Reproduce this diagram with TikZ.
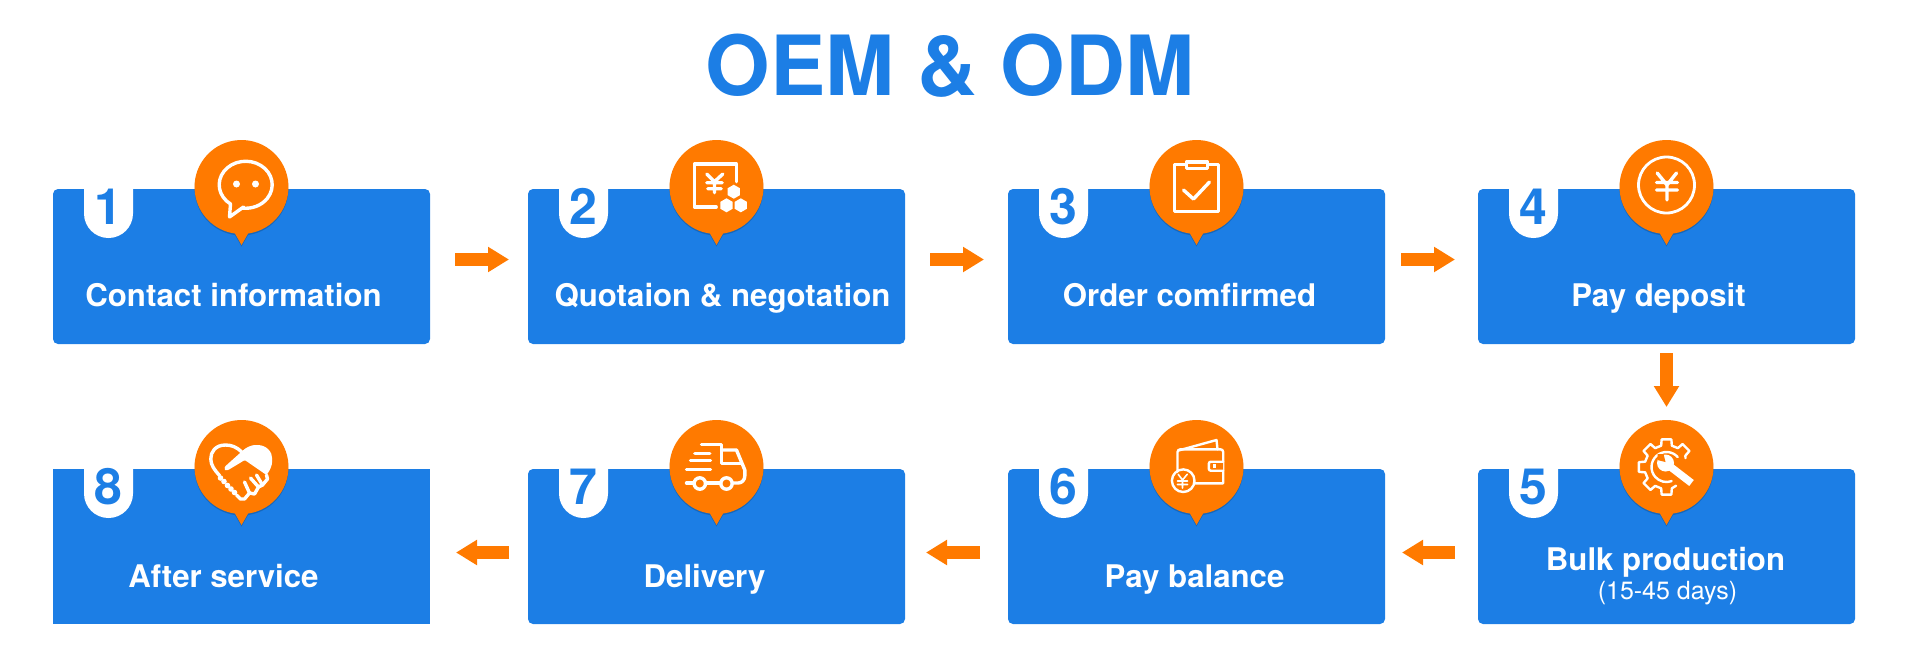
\documentclass[tikz,border=0pt]{standalone}
\usepackage{fontspec}
\setmainfont{TeX Gyre Heros}
\usetikzlibrary{positioning,arrows.meta,shadows}
\definecolor{cardblue}{HTML}{1C7EE5}
\definecolor{pinorange}{HTML}{FF7A00}
\tikzset{
  stepbox/.style={fill=cardblue, rounded corners=5pt, minimum width=377pt, minimum height=155pt, inner sep=0pt, outer sep=0pt},
  steptxt/.style={anchor=base, text=white, inner sep=0pt, font=\fontsize{31.2}{31.2}\selectfont\bfseries},
  subtxt/.style={anchor=base, text=white, inner sep=0pt, font=\fontsize{25}{25}\selectfont},
  numtxt/.style={anchor=base, text=cardblue, inner sep=0pt, font=\fontsize{50}{50}\selectfont\bfseries},
  pinbody/.style={fill=pinorange, drop shadow={shadow xshift=0pt, shadow yshift=-1.5pt, opacity=.18, fill=black}},
  flow/.style={line width=13pt, draw=pinorange, -{Triangle[length=21pt,width=24pt,fill=pinorange]}},
  iconln/.style={draw=white, line width=3.4pt, line join=round, line cap=round},
  thinln/.style={draw=white, line width=2.4pt, line join=round, line cap=round},
}
\newcommand{\numtab}[3]{%
  \fill[white] ([xshift=31pt]#1.north west) -- ++(0,-24.5) arc[start angle=180,end angle=360,radius=24.5] -- ++(0,24.5) -- cycle;
  \node[numtxt] (#2) at ([xshift=55.5pt,yshift=-35pt]#1.north west) {#3};}
\newcommand{\pinmark}[2]{%
  \coordinate (#2) at ([yshift=2pt]#1.north);
  \path[pinbody] (#2) ++(-82:47) arc[start angle=-82,end angle=262,radius=47] -- ([yshift=-58pt]#2) -- cycle;}
\newcommand{\hexmark}[2]{\fill[white,shift={(#1,#2)}] (90:7) -- (150:7) -- (210:7) -- (270:7) -- (330:7) -- (30:7) -- cycle;}
\begin{document}
\begin{tikzpicture}[x=1pt,y=1pt]
\useasboundingbox (0,0) rectangle (1920,-649);
\node[text=cardblue, inner sep=0pt, anchor=base, font=\fontsize{83}{83}\selectfont\bfseries] (title) at (950,-95) {OEM \& ODM};

\node[stepbox, anchor=north west] (b1) at (53,-189) {};
\node[stepbox, right=98pt of b1] (b2) {};
\node[stepbox, right=103pt of b2] (b3) {};
\node[stepbox, right=93pt of b3] (b4) {};
\node[stepbox, below=125pt of b4] (b5) {};
\node[stepbox, left=93pt of b5] (b6) {};
\node[stepbox, left=103pt of b6] (b7) {};
\node[stepbox, sharp corners, left=98pt of b7] (b8) {};

\numtab{b1}{n1}{1} \numtab{b2}{n2}{2} \numtab{b3}{n3}{3} \numtab{b4}{n4}{4}
\numtab{b5}{n5}{5} \numtab{b6}{n6}{6} \numtab{b7}{n7}{7} \numtab{b8}{n8}{8}

\node[steptxt] (t1) at ([xshift=-8pt,yshift=-117pt]b1.north) {Contact information};
\node[steptxt] (t2) at ([xshift=6pt,yshift=-117pt]b2.north) {Quotaion \& negotation};
\node[steptxt] (t3) at ([xshift=-7pt,yshift=-117pt]b3.north) {Order comfirmed};
\node[steptxt] (t4) at ([xshift=-8pt,yshift=-117pt]b4.north) {Pay deposit};
\node[steptxt] (t5) at ([xshift=-1pt,yshift=-101pt]b5.north) {Bulk production};
\node[subtxt] (t5b) at ([xshift=1pt,yshift=-130pt]b5.north) {(15-45 days)};
\node[steptxt] (t6) at ([xshift=-2pt,yshift=-118pt]b6.north) {Pay balance};
\node[steptxt] (t7) at ([xshift=-12pt,yshift=-118pt]b7.north) {Delivery};
\node[steptxt] (t8) at ([xshift=-18pt,yshift=-118pt]b8.north) {After service};

\draw[flow] ([xshift=25pt,yshift=7pt]b1.east) -- ([xshift=-19pt,yshift=7pt]b2.west);
\draw[flow] ([xshift=25pt,yshift=7pt]b2.east) -- ([xshift=-24pt,yshift=7pt]b3.west);
\draw[flow] ([xshift=16pt,yshift=7pt]b3.east) -- ([xshift=-23pt,yshift=7pt]b4.west);
\draw[flow] ([yshift=-9pt]b4.south) -- ([yshift=62pt]b5.north);
\draw[flow] ([xshift=-23pt,yshift=-6pt]b5.west) -- ([xshift=17pt,yshift=-6pt]b6.east);
\draw[flow] ([xshift=-28pt,yshift=-6pt]b6.west) -- ([xshift=21pt,yshift=-6pt]b7.east);
\draw[flow] ([xshift=-19pt,yshift=-6pt]b7.west) -- ([xshift=26pt,yshift=-6pt]b8.east);

\pinmark{b1}{p1} \pinmark{b2}{p2} \pinmark{b3}{p3} \pinmark{b4}{p4}
\pinmark{b5}{p5} \pinmark{b6}{p6} \pinmark{b7}{p7} \pinmark{b8}{p8}

\begin{scope}[shift={(p1)}]
\draw[iconln] (2,-20) -- (-12,-30) -- (-11,-17) arc[start angle=235,end angle=-97,x radius=26.5,y radius=23.5];
\fill[white] (-5,3) circle (3.5) (14,3) circle (3.5);
\end{scope}

\begin{scope}[shift={(p2)}]
\draw[iconln] (19.7,5.3) -- (19.7,23) -- (-22,23) -- (-22,-20) -- (-0.3,-20);
\draw[iconln] (-9.7,13) -- (-2,5.3) -- (6.3,13) (-2,5.3) -- (-2,-5.7) (-9.7,4.3) -- (5.7,4.3) (-8.7,-1.7) -- (4.7,-1.7);
\hexmark{17.3}{-4.7} \hexmark{10}{-18.3} \hexmark{24.3}{-18.3}
\end{scope}

\begin{scope}[shift={(p3)}]
\draw[iconln] (-22,22.5) rectangle (22,-24.5);
\draw[iconln, fill=pinorange] (-10,25) rectangle (11,18.5);
\draw[iconln] (-13,-3) -- (-3,-12) -- (13,5);
\end{scope}

\begin{scope}[shift={(p4)}]
\draw[iconln, line width=2.8pt] (0,2) circle (28);
\draw[iconln] (-9.3,14) -- (0.5,2) -- (10,14) (0.5,2) -- (0.5,-13) (-10,4.5) -- (11,4.5) (-10,-3) -- (11,-3);
\end{scope}

\begin{scope}[shift={(p5)}]
\draw[thinln] (25:21) \foreach \a in {45,90,135,180,225,270} { -- (\a-14:22) -- (\a-10:28) -- (\a+10:28) -- (\a+14:22) } -- (297:21);
\draw[thinln] (42:15) arc[start angle=42,end angle=290,radius=15];
\fill[white] (-1,4) circle (8.5);
\draw[white, line width=7.5pt] (-1,4) -- (25,-16);
\fill[pinorange] (-1,5) -- (-9,7) -- (-9,13) -- (-3,13) -- cycle;
\end{scope}

\begin{scope}[shift={(p6)}]
\draw[thinln] (-19,-4.7) -- (-19,15) to[out=90,in=180] (-16,17.7) -- (24,17.7) to[out=0,in=90] (26.7,15) -- (26.7,-16.3) -- (-2,-16.3);
\draw[thinln] (-18,16.5) -- (20,27) -- (21,17.7);
\draw[thinln, fill=pinorange, rounded corners=2pt] (26.7,5.3) -- (12.3,5.3) -- (12.3,-3.7) -- (26.7,-3.7);
\fill[white] (16,-0.7) rectangle (19.5,2.8);
\draw[thinln] (-13.3,-13.7) circle (11.3);
\draw[thinln, line width=1.6pt] (-18.3,-7.3) -- (-14,-13) -- (-9.3,-7.3) (-14,-13) -- (-14,-21) (-19,-14) -- (-9,-14) (-19,-17.5) -- (-9,-17.5);
\end{scope}

\begin{scope}[shift={(p7)}]
\draw[iconln] (-15,22.7) -- (5,22.7) -- (5,3.7) -- (25,3.7);
\draw[iconln] (5,17) -- (20,17) -- (28.3,-3) -- (28.3,-9) to[out=-90,in=0] (21.7,-16) -- (16,-16);
\draw[iconln] (-30,-16) -- (-22.5,-16) (-10.9,-16) -- (4.2,-16);
\draw[iconln] (-16.7,-16.5) circle (5.7) (10,-16.5) circle (5.7);
\draw[iconln] (-21.7,13.7) -- (-6.7,13.7) (-26,6.3) -- (-6,6.3) (-30,-2.3) -- (-6,-2.3);
\end{scope}

\begin{scope}[shift={(p8)}]
\fill[white, rounded corners=1pt] (0,15.3) .. controls (5,20) and (10,22) .. (15,22) .. controls (25,22) and (31,15) .. (30.7,7) .. controls (30.7,1) and (28,-4) .. (25,-8) -- (3.3,7) -- (-13.3,-3) .. controls (-17,-3.5) .. (-16.7,0.3) -- cycle;
\draw[iconln] (0,15.3) .. controls (-5,20) and (-10,22) .. (-16,22) .. controls (-26,22) and (-31,15) .. (-30.7,8) .. controls (-30.7,2) and (-27,-3) .. (-22,-8.5);
\foreach \bx/\by in {-21/-11,-17.5/-14.5,-14/-18.5,-10.5/-22,-7/-25.5} {\fill[white] (\bx,\by) circle (2.8);}
\draw[iconln] (-5,-28) -- (-1,-32) -- (3,-32) -- (8,-26) -- (13,-27) -- (17,-20) -- (21,-18) -- (26,-12) -- (25,-8);
\draw[iconln] (3,-15) -- (8,-26) (9,-11) -- (17,-20) (15,-8) -- (21,-18);
\end{scope}
\end{tikzpicture}
\end{document}
